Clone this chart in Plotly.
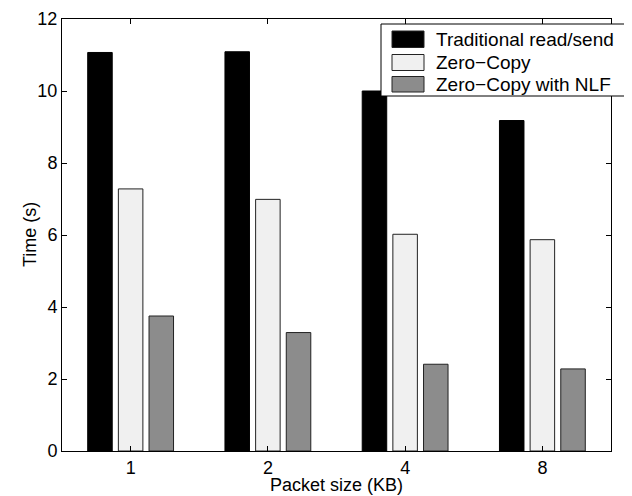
import plotly.graph_objects as go

categories = ["1", "2", "4", "8"]
traditional = [11.07, 11.09, 10.0, 9.18]
zero_copy = [7.28, 6.99, 6.02, 5.87]
zero_copy_nlf = [3.75, 3.29, 2.41, 2.28]
series_names = ["Traditional read/send", "Zero\u2212Copy", "Zero\u2212Copy with NLF"]
colors = ["#000000", "#f0f0f0", "#8c8c8c"]
outline = ["#000000", "#222222", "#222222"]

FONT = "Liberation Sans, Arial, Helvetica, sans-serif"
FS = 18
LFS = 19
OFF = 8  # page body margin offset
W, H = 632 - OFF, 496 - OFF
ML, MT = 62 - OFF, 19 - OFF
PW, PH = 549, 432
MR, MB = W - ML - PW, H - MT - PH


def px2x(px):
    return (px - OFF - ML) / PW


def px2y(py):
    return (MT + PH - (py - OFF)) / PH


fig = go.Figure()
for name, vals, c, oc in zip(series_names, [traditional, zero_copy, zero_copy_nlf], colors, outline):
    fig.add_trace(go.Bar(x=categories, y=vals, name=name, marker=dict(color=c, line=dict(color=oc, width=1))))

shapes = []
annotations = []
# legend box
shapes.append(dict(type="rect", xref="paper", yref="paper", x0=px2x(381), x1=px2x(630),
                   y0=px2y(96), y1=px2y(24), line=dict(color="black", width=1), fillcolor="white", layer="above"))
rows = [(31, 47.5), (54.5, 70.5), (76.5, 92)]
for (t, b), name, c in zip(rows, series_names, colors):
    shapes.append(dict(type="rect", xref="paper", yref="paper", x0=px2x(392), x1=px2x(424),
                       y0=px2y(b), y1=px2y(t), line=dict(color="#222222", width=1), fillcolor=c, layer="above"))
    annotations.append(dict(xref="paper", yref="paper", x=px2x(434), y=px2y((t + b) / 2), text=name,
                            showarrow=False, xanchor="left", yanchor="middle",
                            font=dict(family=FONT, size=LFS, color="black")))
# axis titles
annotations.append(dict(xref="paper", yref="paper", x=px2x(336), y=px2y(485), text="Packet size (KB)",
                        showarrow=False, xanchor="center", yanchor="middle",
                        font=dict(family=FONT, size=FS, color="black")))
annotations.append(dict(xref="paper", yref="paper", x=px2x(30), y=px2y(235), text="Time (s)",
                        showarrow=False, xanchor="center", yanchor="middle", textangle=-90,
                        font=dict(family=FONT, size=FS, color="black")))

fig.update_layout(
    width=W, height=H,
    margin=dict(l=ML, r=MR, t=MT, b=MB),
    barmode="group", bargap=0.33, bargroupgap=0.2,
    plot_bgcolor="white", paper_bgcolor="white",
    showlegend=False,
    font=dict(family=FONT, size=FS, color="black"),
    shapes=shapes, annotations=annotations,
    xaxis=dict(type="category", range=[-0.5, 3.5], showline=True, linecolor="black", linewidth=1,
               mirror="ticks", ticks="inside", ticklen=5, tickcolor="black",
               showgrid=False, tickfont=dict(size=FS), automargin=False),
    yaxis=dict(range=[0, 12], dtick=2, showline=True, linecolor="black", linewidth=1,
               mirror="ticks", ticks="inside", ticklen=5, tickcolor="black",
               showgrid=False, zeroline=False, tickfont=dict(size=FS), automargin=False),
)

fig.write_html("out.html")
